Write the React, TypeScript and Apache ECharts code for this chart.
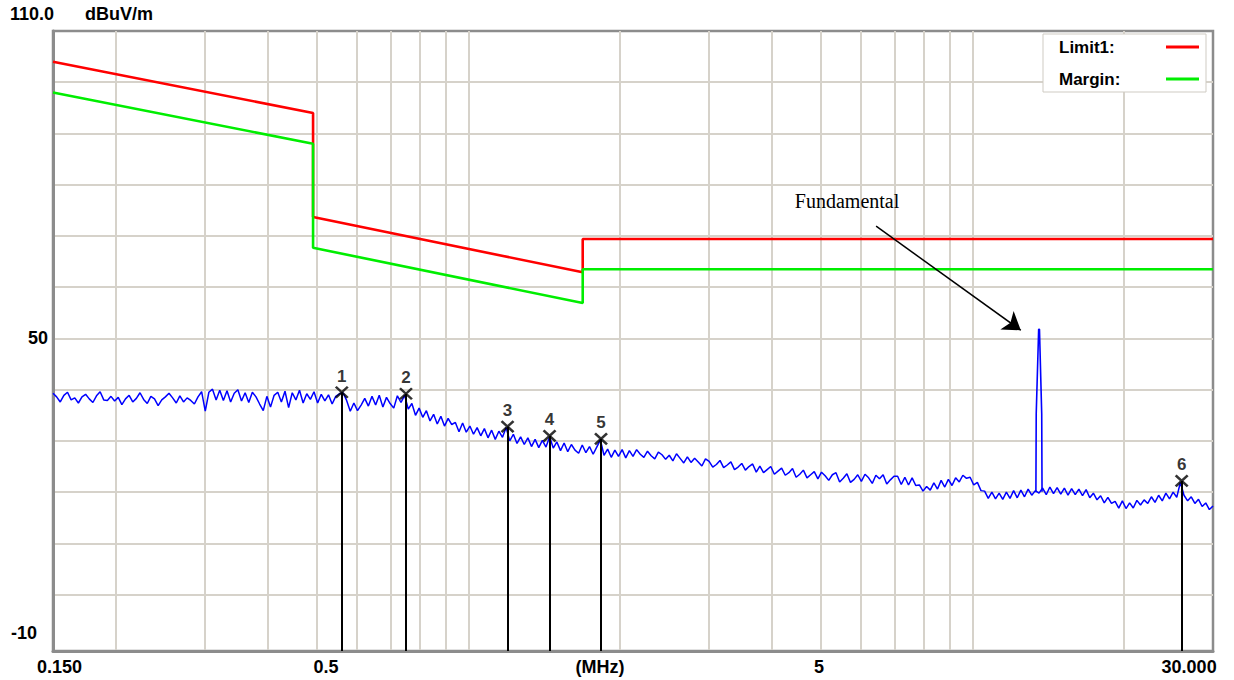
import React, { useEffect, useRef } from 'react';
import * as echarts from 'echarts';

// ---- sweep (instrument scan 0.150 - 30.000 MHz) ----
const FREQ_START = 0.15;
const FREQ_STOP = 30;
const Y_MIN = -11;
const Y_MAX = 110;

const traceValues = [
  39.3, 38.6, 37.6, 38.9, 39.5, 38.0, 38.4, 37.4, 38.6, 39.1, 38.2, 37.5, 38.8, 39.6, 38.0, 37.9, 38.7, 37.8, 38.5, 37.1,
  38.2, 38.9, 37.6, 38.3, 39.4, 38.1, 37.3, 38.7, 38.2, 36.9, 38.0, 38.6, 39.3, 38.4, 37.4, 38.8, 37.6, 38.4, 37.9, 37.2, 38.6,
  39.6, 35.8, 39.5, 40.1, 38.0, 39.9, 37.9,
  39.8, 37.6, 39.3, 40.0, 37.8, 39.4, 37.5, 39.5,
  38.6, 37.2, 35.9, 38.7, 36.6, 38.9, 39.5,
  37.6, 39.7, 36.5, 39.4, 38.0, 39.9, 37.4, 39.2, 38.1, 39.6,
  37.4, 39.1, 37.8, 39.0, 37.2, 38.7, 39.2,
  39.4,
  37.9, 35.8, 37.4, 35.9, 37.0,
  38.3, 36.8, 38.7, 37.0, 38.9, 36.6, 38.5, 37.3, 36.4, 38.8, 37.5,
  38.9,
  36.2, 37.3, 35.0, 36.4, 34.6,
  35.9, 33.9, 35.2, 33.3, 34.8, 32.9, 34.4, 33.2,
  33.6, 31.8, 33.5, 31.7, 32.9, 31.3, 32.6,
  31.0, 32.4, 30.6, 32.1, 30.3, 31.9, 30.7,
  32.6,
  30.0, 31.3, 29.5, 30.8, 29.3, 30.6, 28.9, 30.3,
  28.7, 30.1, 28.8,
  30.8,
  28.6, 29.8, 28.1, 29.6, 27.9, 29.3, 28.2, 27.6, 29.2, 27.7, 28.9, 27.4, 28.8,
  30.2,
  27.2, 28.4, 26.8, 28.2, 27.0, 28.3, 26.7, 28.1, 27.0,
  28.3, 27.4, 26.8, 28.0, 27.1, 26.5, 27.8, 27.3, 26.4, 27.2, 26.1, 27.5, 26.6, 25.7, 26.9, 25.8,
  26.6, 25.9, 25.1, 26.5, 26.0, 24.9, 25.4, 26.2, 24.8, 25.3, 25.9, 24.4, 24.9, 25.6, 24.3, 25.0, 25.5, 23.9, 25.1,
  23.8, 24.4, 25.0, 23.5, 24.1, 24.7, 23.3, 23.8, 24.6, 22.9, 23.5, 24.3, 22.8, 23.4, 24.0, 22.6, 23.9, 23.2,
  22.3, 23.4, 23.8, 22.0, 22.7, 23.6, 21.9, 22.5, 23.4, 22.1, 23.5, 22.8, 21.7, 23.3, 22.6, 23.4, 21.6, 22.4, 23.1,
  23.1, 21.5, 22.9, 21.4, 22.8, 21.3,
  21.4, 20.2, 21.1,
  20.4, 21.8, 20.6, 22.3, 21.0,
  22.5, 21.3, 22.8, 22.0, 23.3, 22.7,
  22.9, 21.4, 21.9, 20.3,
  20.2, 18.8, 20.0, 18.7, 19.8,
  18.6, 20.0, 18.8, 20.3, 18.9, 20.4, 19.1, 20.6, 19.4,
  20.3, 19.8,
  20.8, 19.5, 21.0, 19.7, 20.9, 19.6, 20.8, 19.4, 20.7, 19.5, 20.6, 19.3, 20.5,
  18.9, 19.8, 18.5, 19.3, 17.9, 19.0, 17.8,
  18.2, 16.9, 18.3, 16.8, 17.9, 16.9, 18.4,
  17.5, 18.5, 17.8, 19.1, 18.0, 19.4, 18.3,
  19.8, 18.7, 20.0, 19.0,
  21.9,
  19.4, 18.3, 19.1, 17.8, 18.6, 17.2, 17.9, 16.6, 17.3,
];

// the 13.56 MHz fundamental
const fundamentalFreqs = [13.36, 13.38, 13.53, 13.58, 13.72, 13.74];
const fundamentalValues = [20.0, 35.3, 51.8, 51.8, 35.3, 20.1];

// limit lines
const limitFreqs = [0.15, 0.492, 0.492, 1.686, 1.686, 30];
const limit1Values = [104, 94, 73.7, 62.9, 69.4, 69.4];
const marginValues = [98, 88, 67.7, 56.9, 63.5, 63.5];

// markers
const markerLabels = ['1', '2', '3', '4', '5', '6'];
const markerFreqs = [0.561, 0.752, 1.196, 1.449, 1.833, 26.0];
const markerValues = [39.5, 39.2, 32.8, 31.0, 30.4, 22.2];

// grid and tick labels
const gridFreqs = [0.2, 0.3, 0.4, 0.5, 0.6, 0.7, 0.8, 0.9, 1, 2, 3, 4, 5, 6, 7, 8, 9, 10, 20];
const gridLevels = [0, 10, 20, 30, 40, 50, 60, 70, 80, 90, 100];
const xLabelAt = [0.1545, 0.522, 1.825, 4.96, 26.9];
const xLabelTexts = ['0.150', '0.5', '(MHz)', '5', '30.000'];
const yLabelAt = [50, -10];
const yLabelTexts = ['50', '-10'];
const topLabel = '110.0';
const unitLabel = 'dBuV/m';

// annotation
const annotationText = 'Fundamental';
const annotationAt = [5.64, 76.8];
const arrowFrom = [6.44, 71.9];
const arrowTo = [12.47, 51.6];

const FONT = '"Liberation Sans", Arial, sans-serif';

function findIdx(list: number[], v: number) {
  return list.findIndex((a) => Math.abs(a - v) <= Math.abs(a) * 1e-3 + 1e-9);
}

export default function App() {
  const ref = useRef<HTMLDivElement>(null);

  useEffect(() => {
    if (!ref.current) return;
    const chart = echarts.init(ref.current, undefined, { renderer: 'svg' });

    const n = traceValues.length;
    const traceData = traceValues.map((v, i) => [
      FREQ_START * Math.pow(FREQ_STOP / FREQ_START, i / (n - 1)),
      v,
    ]);

    const option: any = {
      animation: false,
      backgroundColor: '#ffffff',
      title: [
        {
          text: topLabel, left: 10, top: 5, padding: 0,
          textStyle: { fontFamily: FONT, fontWeight: 'bold', fontSize: 18, color: '#000', lineHeight: 18 },
        },
        {
          text: unitLabel, left: 85, top: 5, padding: 0,
          textStyle: { fontFamily: FONT, fontWeight: 'bold', fontSize: 18, color: '#000', lineHeight: 18 },
        },
      ],
      legend: {
        show: true,
        orient: 'vertical',
        left: 1043,
        top: 34,
        padding: [3, 7, 3, 16],
        itemGap: 12,
        itemWidth: 33,
        itemHeight: 3,
        align: 'right',
        icon: 'rect',
        backgroundColor: '#ffffff',
        borderColor: '#cfcbc3',
        borderWidth: 1,
        selectedMode: false,
        formatter: (name: string) => `{t|${name}}`,
        textStyle: {
          fontFamily: FONT, fontWeight: 'bold', fontSize: 17, color: '#000', lineHeight: 20,
          rich: {
            t: { width: 102, align: 'left', fontFamily: FONT, fontWeight: 'bold', fontSize: 17, color: '#000', lineHeight: 20 },
          },
        },
        data: ['Limit1:', 'Margin:'],
      },
      grid: {
        left: 53, top: 31, width: 1160, height: 620,
        show: true, borderColor: '#8c8c8c', borderWidth: 2.5, backgroundColor: '#ffffff',
      },
      xAxis: {
        type: 'log',
        logBase: 10,
        min: FREQ_START,
        max: FREQ_STOP,
        axisLine: { show: true, onZero: false, lineStyle: { color: '#8c8c8c', width: 3 } },
        axisTick: { show: false, customValues: gridFreqs },
        splitLine: { show: true, lineStyle: { color: '#d6d2ca', width: 2 } },
        minorSplitLine: { show: false },
        axisLabel: {
          customValues: xLabelAt,
          margin: 7,
          fontFamily: FONT, fontWeight: 'bold', fontSize: 18, color: '#000',
          formatter: (v: number) => {
            const i = findIdx(xLabelAt, v);
            return i < 0 ? '' : xLabelTexts[i];
          },
        },
      },
      yAxis: {
        type: 'value',
        min: Y_MIN,
        max: Y_MAX,
        axisLine: { show: true, onZero: false, lineStyle: { color: '#8c8c8c', width: 3 } },
        axisTick: { show: false, customValues: gridLevels },
        splitLine: { show: true, lineStyle: { color: '#d6d2ca', width: 2 } },
        axisLabel: {
          customValues: yLabelAt,
          margin: 5,
          fontFamily: FONT, fontWeight: 'bold', fontSize: 18, color: '#000',
          formatter: (v: number) => {
            const i = findIdx(yLabelAt, v);
            if (i < 0) return '';
            return i === yLabelAt.length - 1 ? `{low|${yLabelTexts[i]}}` : yLabelTexts[i];
          },
          rich: {
            low: { fontFamily: FONT, fontWeight: 'bold', fontSize: 18, color: '#000', padding: [0, 11, 25, 0] },
          },
        },
      },
      series: [
        {
          name: 'Limit1:',
          type: 'line',
          data: limitFreqs.map((f, i) => [f, limit1Values[i]]),
          showSymbol: false,
          symbol: 'none',
          color: '#ff0000',
          lineStyle: { color: '#ff0000', width: 2.6 },
          silent: true,
          z: 3,
        },
        {
          name: 'Margin:',
          type: 'line',
          data: limitFreqs.map((f, i) => [f, marginValues[i]]),
          showSymbol: false,
          symbol: 'none',
          color: '#00ee00',
          lineStyle: { color: '#00ee00', width: 2.6 },
          silent: true,
          z: 3,
        },
        {
          name: 'trace',
          type: 'line',
          data: traceData,
          showSymbol: false,
          symbol: 'none',
          lineStyle: { color: '#0000ff', width: 1.5 },
          silent: true,
          z: 4,
        },
        {
          name: 'fundamental',
          type: 'line',
          data: fundamentalFreqs.map((f, i) => [f, fundamentalValues[i]]),
          showSymbol: false,
          symbol: 'none',
          lineStyle: { color: '#0000ff', width: 1.6 },
          silent: true,
          z: 4,
          markPoint: {
            silent: true,
            symbol: 'rect',
            symbolSize: 1,
            itemStyle: { color: 'rgba(0,0,0,0)' },
            label: {
              show: true,
              position: 'inside',
              formatter: annotationText,
              color: '#000',
              fontFamily: '"Liberation Serif", "Times New Roman", serif',
              fontSize: 20,
            },
            data: [{ coord: annotationAt }],
          },
        },
        {
          name: 'markers',
          type: 'scatter',
          data: markerFreqs.map((f, i) => [f, markerValues[i]]),
          symbol: 'path://M0 0L10 10M10 0L0 10',
          symbolSize: [12, 11],
          itemStyle: { color: 'rgba(0,0,0,0)', borderColor: '#000', borderWidth: 2.5 },
          label: {
            show: true,
            position: 'top',
            distance: 1,
            formatter: (p: any) => markerLabels[p.dataIndex],
            fontFamily: FONT, fontWeight: 'bold', fontSize: 17, color: '#000',
          },
          silent: true,
          z: 6,
          markLine: {
            silent: true,
            symbol: ['none', 'none'],
            lineStyle: { color: '#000', width: 2, type: 'solid' },
            label: { show: false },
            data: [
              ...markerFreqs.map((f, i) => [
                { coord: [f, markerValues[i]] },
                { coord: [f, Y_MIN] },
              ]),
              [
                { coord: arrowFrom, symbol: 'none', lineStyle: { width: 1.5 } },
                { coord: arrowTo, symbol: 'arrow', symbolSize: 17 },
              ],
            ],
          },
        },
      ],
    };

    chart.setOption(option);
    return () => chart.dispose();
  }, []);

  return (
    <div
      ref={ref}
      style={{ position: 'fixed', left: 0, top: 0, width: 1234, height: 680, background: '#fff' }}
    />
  );
}
